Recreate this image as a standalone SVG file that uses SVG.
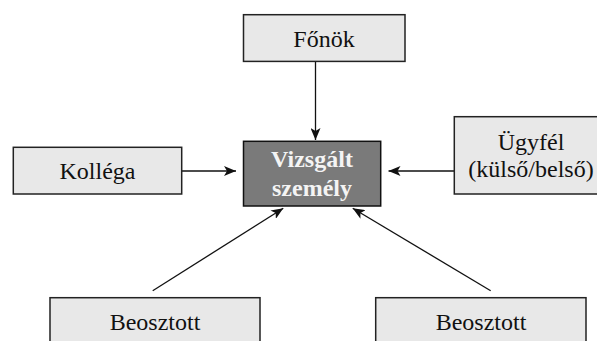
<svg xmlns="http://www.w3.org/2000/svg" width="597" height="341" viewBox="0 0 597 341">
<style>
.box{fill:#e8e8e8;stroke:#222;stroke-width:1.5}
.main{fill:#7a7a7a;stroke:#111;stroke-width:1.5}
.t{font-family:"Liberation Serif","Times New Roman",serif;font-size:24px;fill:#111;text-anchor:middle}
.tm{font-family:"Liberation Serif","Times New Roman",serif;font-size:24px;font-weight:bold;fill:#f4f4f4;text-anchor:middle}
.c{stroke:#111;stroke-width:1.3;fill:none;marker-end:url(#ah)}
</style>
<defs>
<marker id="ah" viewBox="0 0 12 10" refX="12" refY="5" markerWidth="12" markerHeight="10" markerUnits="userSpaceOnUse" orient="auto">
<path d="M0,0 L12,5 L0,10 L3,5 Z" fill="#111"/>
</marker>
</defs>
<g id="connectors">
<line class="c" x1="315.5" y1="61.5" x2="315.5" y2="140"/>
<line class="c" x1="181.7" y1="171" x2="236" y2="171"/>
<line class="c" x1="454.3" y1="171" x2="388.5" y2="171"/>
<line class="c" x1="152.7" y1="290.7" x2="283.3" y2="208.3"/>
<line class="c" x1="490.7" y1="290.7" x2="352.7" y2="208.3"/>
</g>
<g id="fonok">
<rect class="box" x="243.5" y="14.7" width="161.5" height="46.7"/>
<text class="t" x="324" y="46.7">Főnök</text>
</g>
<g id="kollega">
<rect class="box" x="13.3" y="147.3" width="168.4" height="46.7"/>
<text class="t" x="97.5" y="179.3">Kolléga</text>
</g>
<g id="vizsgalt">
<rect class="main" x="243.5" y="141.3" width="137.2" height="64.7"/>
<text class="tm" x="312" y="166.7">Vizsgált</text>
<text class="tm" x="312" y="196">személy</text>
</g>
<g id="ugyfel">
<rect class="box" x="454.3" y="116.7" width="155" height="77.3"/>
<text class="t" x="531" y="150">Ügyfél</text>
<text class="t" x="531" y="177">(külső/belső)</text>
</g>
<g id="beosztott1">
<rect class="box" x="50" y="297.7" width="210" height="60"/>
<text class="t" x="155" y="330">Beosztott</text>
</g>
<g id="beosztott2">
<rect class="box" x="375.7" y="297.7" width="210.3" height="60"/>
<text class="t" x="481" y="330">Beosztott</text>
</g>
</svg>
